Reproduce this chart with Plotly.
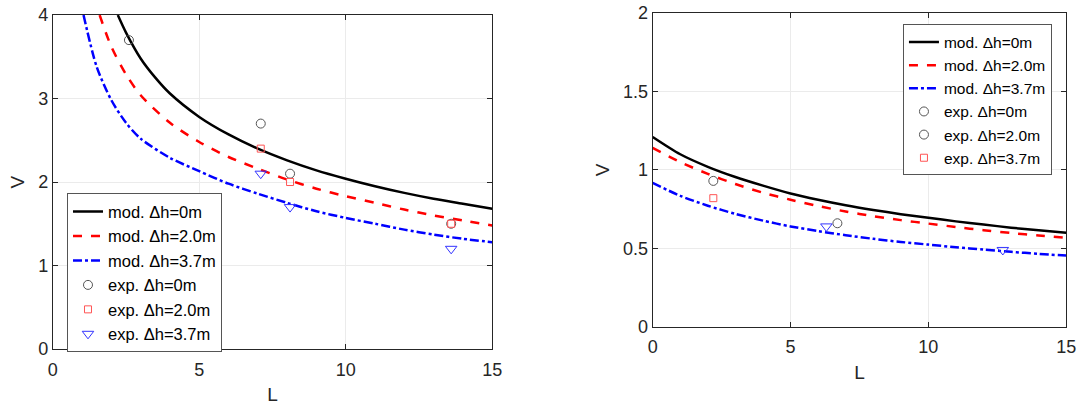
import plotly.graph_objects as go
from plotly.subplots import make_subplots

# left panel: model curves
L_black_a = [2.22, 2.5, 3, 3.5, 4, 5, 6, 7, 8, 9, 10, 11, 12, 13, 14, 15]
V_black_a = [4.0, 3.79, 3.48, 3.25, 3.06, 2.78, 2.57, 2.40, 2.26, 2.14, 2.04, 1.95, 1.87, 1.80, 1.74, 1.68]
L_red_a = [1.6, 2, 2.5, 3, 4, 5, 6, 7, 8, 9, 10, 11, 12, 13, 14, 15]
V_red_a = [4.0, 3.62, 3.29, 3.04, 2.71, 2.48, 2.30, 2.16, 2.03, 1.92, 1.83, 1.75, 1.67, 1.60, 1.54, 1.48]
L_blue_a = [1.05, 1.5, 2, 2.5, 3, 4, 5, 6, 7, 8, 9, 10, 11, 12, 13, 14, 15]
V_blue_a = [4.0, 3.38, 2.98, 2.71, 2.52, 2.29, 2.13, 1.98, 1.86, 1.75, 1.65, 1.57, 1.50, 1.43, 1.37, 1.32, 1.28]

# left panel: experiments
L_exp0_a = [2.6, 7.1, 8.1, 13.6]
V_exp0_a = [3.7, 2.7, 2.1, 1.5]
L_exp2_a = [7.1, 8.1, 13.6]
V_exp2_a = [2.4, 2.0, 1.5]
L_exp37_a = [7.1, 8.1, 13.6]
V_exp37_a = [2.1, 1.7, 1.2]

# right panel: model curves
L_b = [0, 1, 2, 3, 4, 5, 6, 7, 8, 9, 10, 11, 12, 13, 14, 15]
V_black_b = [1.21, 1.10, 1.02, 0.955, 0.90, 0.85, 0.81, 0.775, 0.745, 0.718, 0.695, 0.672, 0.652, 0.632, 0.615, 0.60]
V_red_b = [1.14, 1.05, 0.975, 0.91, 0.855, 0.81, 0.77, 0.735, 0.705, 0.68, 0.658, 0.636, 0.616, 0.598, 0.582, 0.567]
V_blue_b = [0.917, 0.835, 0.772, 0.72, 0.677, 0.64, 0.61, 0.584, 0.561, 0.541, 0.524, 0.507, 0.492, 0.478, 0.465, 0.454]

# right panel: experiments
L_exp0_b = [2.2]
V_exp0_b = [0.93]
L_exp2_b = [6.7]
V_exp2_b = [0.66]
L_exp37_b = [2.2]
V_exp37_b = [0.82]
L_tri_b = [6.3, 12.7]
V_tri_b = [0.64, 0.49]

FONT = "Liberation Sans, Arial, sans-serif"
INK = "#262626"

fig = make_subplots(rows=1, cols=2)

def add_models(xs, ys, col, leg):
    styles = [("black", "solid", "mod. Δh=0m"),
              ("#ff0000", "dash", "mod. Δh=2.0m"),
              ("#0000ff", "dashdot", "mod. Δh=3.7m")]
    for (x, y), (c, d, name) in zip(zip(xs, ys), styles):
        fig.add_trace(go.Scatter(x=x, y=y, mode="lines", name=name,
                                 line=dict(color=c, width=2.5, dash=d, shape="spline", smoothing=0.8),
                                 legend=leg),
                      row=1, col=col)

def add_exp(x, y, sym, color, name, col, leg, show=True, size=8):
    fig.add_trace(go.Scatter(x=x, y=y, mode="markers", name=name, legend=leg, showlegend=show,
                             marker=dict(symbol=sym, size=size, color=color, line=dict(width=1, color=color))),
                  row=1, col=col)

add_models([L_black_a, L_red_a, L_blue_a], [V_black_a, V_red_a, V_blue_a], 1, "legend")
add_exp(L_exp0_a, V_exp0_a, "circle-open", "#555555", "exp. Δh=0m", 1, "legend", size=9)
add_exp(L_exp2_a, V_exp2_a, "square-open", "#ff5555", "exp. Δh=2.0m", 1, "legend", size=7)
add_exp(L_exp37_a, V_exp37_a, "triangle-down-open", "#3333ff", "exp. Δh=3.7m", 1, "legend", size=10)

add_models([L_b, L_b, L_b], [V_black_b, V_red_b, V_blue_b], 2, "legend2")
add_exp(L_exp0_b, V_exp0_b, "circle-open", "#555555", "exp. Δh=0m", 2, "legend2", size=9)
add_exp(L_exp2_b, V_exp2_b, "circle-open", "#555555", "exp. Δh=2.0m", 2, "legend2", size=9)
add_exp(L_exp37_b, V_exp37_b, "square-open", "#ff5555", "exp. Δh=3.7m", 2, "legend2", size=7)
add_exp(L_tri_b, V_tri_b, "triangle-down-open", "#3333ff", "", 2, "legend2", show=False, size=10)

ax = dict(showline=True, linecolor=INK, linewidth=1, mirror="ticks", ticks="inside",
          ticklen=5, tickcolor=INK, showgrid=True, gridcolor="#ebebeb", zeroline=False,
          automargin=False, tickfont=dict(family=FONT, size=18, color=INK))

fig.update_xaxes(ax, range=[0, 15], tickvals=[0, 5, 10, 15], ticklabelstandoff=4,
                 title=dict(text="L", font=dict(family=FONT, size=19, color=INK), standoff=9))
fig.update_yaxes(ax, title=dict(text="V", font=dict(family=FONT, size=19, color=INK), standoff=8))
fig.update_xaxes(domain=[0.049, 0.457], row=1, col=1)
fig.update_xaxes(domain=[0.606, 0.990], row=1, col=2)
fig.update_yaxes(domain=[0.1425, 0.963], range=[0, 4], tickvals=[0, 1, 2, 3, 4], row=1, col=1)
fig.update_yaxes(domain=[0.197, 0.968], range=[0, 2], tickvals=[0, 0.5, 1, 1.5, 2], row=1, col=2)

leg = dict(bgcolor="white", bordercolor="#555", borderwidth=1,
           tracegroupgap=0, itemwidth=30)
fig.update_layout(
    width=1077, height=407,
    paper_bgcolor="white", plot_bgcolor="white",
    margin=dict(l=0, r=0, t=0, b=0),
    legend=dict(leg, x=0.0622, y=0.525, xanchor="left", yanchor="top",
                font=dict(family=FONT, size=16.5, color="black")),
    legend2=dict(leg, x=0.8384, y=0.94, xanchor="left", yanchor="top",
                 font=dict(family=FONT, size=15.5, color="black")),
)

# drop the default page margin so the figure sits at the window corner
fig.write_html("out.html", config={"displayModeBar": False},
               post_script="document.body.style.margin='0';")
